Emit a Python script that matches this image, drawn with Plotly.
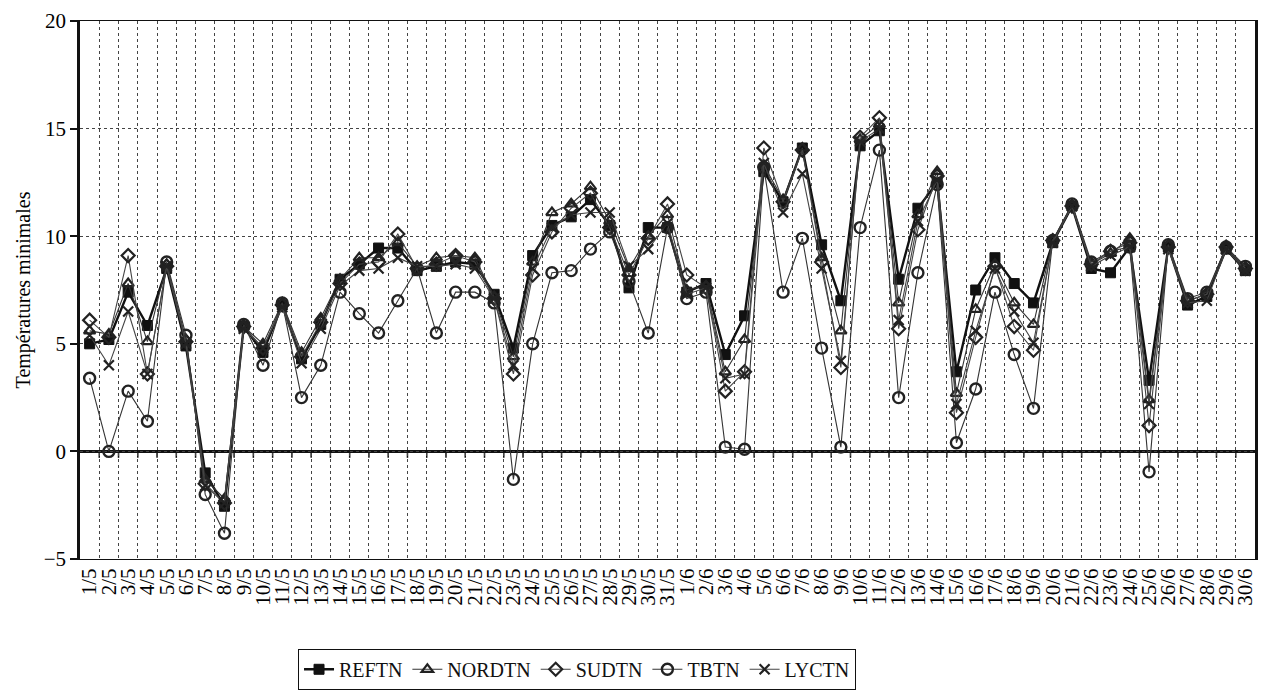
import plotly.graph_objects as go

days = [f"{d}/5" for d in range(1, 32)] + [f"{d}/6" for d in range(1, 31)]

reftn = [5.0, 5.2, 7.4, 5.85, 8.5, 4.9, -1.0, -2.55, 5.8, 4.6,
         6.8, 4.3, 5.9, 8.0, 8.7, 9.45, 9.45, 8.4, 8.6, 8.8,
         8.7, 7.3, 4.8, 9.1, 10.5, 10.9, 11.7, 10.5, 7.6, 10.4,
         10.4, 7.4, 7.8, 4.5, 6.3, 13.0, 11.6, 14.1, 9.6, 7.0,
         14.2, 14.9, 8.0, 11.3, 12.5, 3.7, 7.5, 9.0, 7.8, 6.9,
         9.7, 11.4, 8.5, 8.3, 9.5, 3.3, 9.5, 6.8, 7.2, 9.4, 8.4]

nordtn = [5.6, 5.45, 7.8, 5.1, 8.7, 5.2, -1.3, -2.2, 5.8, 5.0,
          6.9, 4.6, 6.2, 8.0, 9.0, 9.0, 9.7, 8.6, 9.0, 9.1,
          9.0, 7.2, 4.4, 8.8, 11.1, 11.5, 12.3, 10.7, 8.5, 10.0,
          11.0, 7.5, 7.7, 3.7, 5.2, 13.3, 11.7, 14.1, 9.0, 5.6,
          14.5, 15.2, 6.9, 11.0, 13.0, 2.7, 6.6, 8.7, 6.9, 5.9,
          9.8, 11.4, 8.7, 9.2, 9.9, 2.4, 9.6, 7.0, 7.3, 9.5, 8.5]

sudtn = [6.1, 5.3, 9.1, 3.6, 8.6, 5.1, -1.5, -2.4, 5.8, 4.8,
         6.8, 4.4, 6.0, 7.8, 8.7, 8.8, 10.1, 8.5, 8.7, 9.1,
         8.8, 7.1, 3.6, 8.2, 10.2, 11.3, 12.0, 10.4, 8.2, 9.9,
         11.5, 8.2, 7.6, 2.8, 3.7, 14.1, 11.6, 14.0, 8.8, 3.9,
         14.6, 15.5, 5.7, 10.3, 12.8, 1.8, 5.3, 8.6, 5.8, 4.7,
         9.8, 11.4, 8.7, 9.3, 9.7, 1.2, 9.5, 7.0, 7.3, 9.5, 8.5]

tbtn = [3.4, 0.0, 2.8, 1.4, 8.8, 5.4, -2.0, -3.8, 5.9, 4.0,
        6.9, 2.5, 4.0, 7.4, 6.4, 5.5, 7.0, 8.5, 5.5, 7.4,
        7.4, 6.9, -1.3, 5.0, 8.3, 8.4, 9.4, 10.2, 7.9, 5.5,
        10.4, 7.1, 7.4, 0.2, 0.1, 13.2, 7.4, 9.9, 4.8, 0.2,
        10.4, 14.0, 2.5, 8.3, 12.4, 0.4, 2.9, 7.4, 4.5, 2.0,
        9.8, 11.5, 8.8, 9.3, 9.5, -0.95, 9.6, 7.1, 7.4, 9.5, 8.6]

lyctn = [5.4, 4.0, 6.5, 3.6, 8.6, 5.0, -1.6, -2.4, 5.7, 4.8,
         6.7, 4.1, 5.7, 7.7, 8.4, 8.5, 9.0, 8.6, 8.6, 8.7,
         8.5, 7.1, 4.0, 8.5, 10.4, 11.0, 11.1, 11.1, 8.6, 9.4,
         10.6, 7.3, 7.6, 3.4, 3.6, 13.4, 11.1, 12.9, 8.5, 4.2,
         14.4, 15.0, 6.1, 10.7, 12.6, 2.2, 5.6, 8.5, 6.5, 5.05,
         9.7, 11.4, 8.6, 9.1, 9.5, 2.2, 9.4, 6.9, 7.0, 9.4, 8.4]

x = list(range(len(days)))
FONT = "Liberation Serif"

fig = go.Figure()

series = [
    ("REFTN", reftn, dict(symbol="square", size=10, color="#111", line=dict(color="#111", width=1)), 2.4, "#111"),
    ("NORDTN", nordtn, dict(symbol="triangle-up-open", size=10, color="#222", line=dict(width=2.2)), 1.1, "#333"),
    ("SUDTN", sudtn, dict(symbol="diamond-open", size=10, color="#222", line=dict(width=2.2)), 1.1, "#444"),
    ("TBTN", tbtn, dict(symbol="circle-open", size=11, color="#222", line=dict(width=2.4)), 1.1, "#333"),
    ("LYCTN", lyctn, dict(symbol="x-thin-open", size=10, color="#222", line=dict(width=2.2)), 1.1, "#444"),
]
for name, vals, marker, lw, lc in series:
    fig.add_trace(go.Scatter(x=x, y=vals, name=name, mode="lines+markers",
                             line=dict(color=lc, width=lw), marker=marker))

boundaries = [i + 0.5 for i in range(len(days) - 1)]

# thick zero line with tick marks
fig.add_shape(type="line", xref="x", yref="y", x0=-0.5, x1=len(days) - 0.5, y0=0, y1=0,
              line=dict(color="#111", width=3), layer="below")
for b in boundaries:
    fig.add_shape(type="line", xref="x", yref="y", x0=b, x1=b, y0=0, y1=-0.3,
                  line=dict(color="#111", width=1.5), layer="below")

fig.update_layout(
    width=1264, height=697,
    margin=dict(l=80, r=6, t=21, b=138),
    paper_bgcolor="white", plot_bgcolor="white",
    font=dict(family=FONT, size=20, color="#111"),
    showlegend=True,
    legend=dict(orientation="h", x=0.423, xanchor="center", y=-0.205, yanchor="middle",
                bordercolor="#111", borderwidth=1, font=dict(family=FONT, size=20),
                itemwidth=30, tracegroupgap=0),
    xaxis=dict(
        range=[-0.5, len(days) - 0.5],
        tickmode="array", tickvals=x, ticktext=days, tickangle=-90,
        showgrid=False, zeroline=False, ticks="",
        showline=True, linecolor="#111", linewidth=1.2, mirror=True,
        tickfont=dict(family=FONT, size=21, color="#000"),
        minor=dict(tickmode="array", tickvals=boundaries, showgrid=True,
                   griddash="dot", gridcolor="#444", gridwidth=1, ticks=""),
    ),
    yaxis=dict(
        range=[-5, 20], tickmode="array", tickvals=[-5, 0, 5, 10, 15, 20],
        showgrid=True, griddash="dot", gridcolor="#444", gridwidth=1,
        zeroline=False, ticks="outside", ticklen=7, tickcolor="#111", tickwidth=2,
        showline=True, linecolor="#111", linewidth=2.5, mirror=True,
        tickfont=dict(family=FONT, size=21, color="#000"),
        title=dict(text="Températures minimales", font=dict(family=FONT, size=20, color="#000"),
                   standoff=8),
    ),
)

fig.write_html("out.html")
